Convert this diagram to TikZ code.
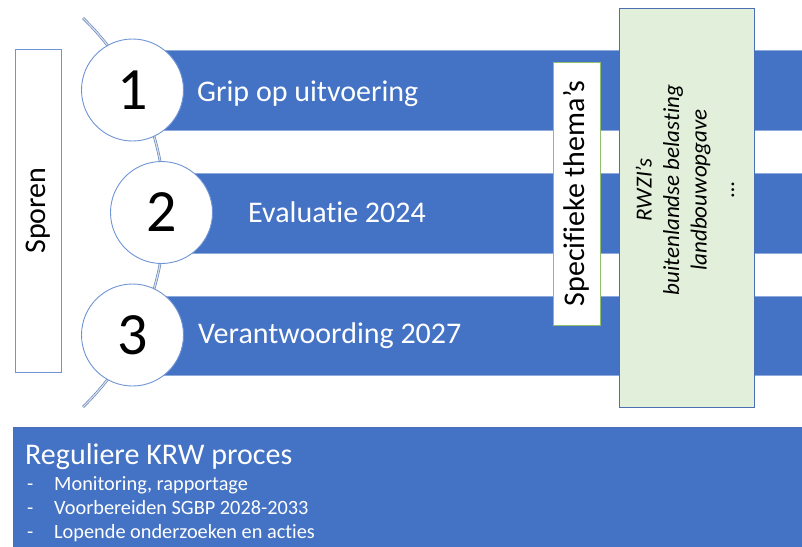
\documentclass[tikz,border=0pt]{standalone}
\usepackage{fontspec}
\setmainfont{Carlito}[Ligatures=NoCommon]
\definecolor{bandblue}{HTML}{4472C4}
\definecolor{bandedge}{HTML}{8EAADB}
\definecolor{circedge}{HTML}{6F94D6}
\definecolor{greenfill}{HTML}{E2EFDA}
\definecolor{greenedge}{HTML}{8FBF6A}
\definecolor{boxedge}{HTML}{4A6FB5}
\definecolor{arcline}{HTML}{5A7BB5}
\begin{document}
\begin{tikzpicture}[x=1pt,y=-1pt,
  band/.style={fill=bandblue, draw=bandedge, line width=0.6pt},
  numcirc/.style={circle, draw=circedge, fill=white, line width=0.9pt, minimum size=102pt, inner sep=0pt, font=\fontsize{60}{62}\selectfont},
  bandtext/.style={text=white, inner sep=0pt, font=\fontsize{30}{36}\selectfont},
  vtext/.style={rotate=90, inner sep=0pt, font=\fontsize{30}{36}\selectfont},
  listtext/.style={text=white, anchor=base west, inner sep=0pt, font=\fontsize{20.3}{24}\selectfont},
]
\useasboundingbox (0,0) rectangle (802,546);

% bands
\path[band] (132,50) rectangle (803,130);
\path[band] (161,173) rectangle (803,253);
\path[band] (132,296) rectangle (803,375);

% arc through the circles
\coordinate (arcc) at (-106.7,212.5);
\draw[draw=arcline, line width=0.6pt, double=white!75!arcline, double distance=1.3pt]
  ([shift={(45.7:271.7pt)}]arcc) arc[start angle=45.7, end angle=-45.7, radius=271.7pt];

% circles
\node[numcirc] (c1) at (132.5,90) {1};
\node[numcirc] (c2) at (161.5,212.5) {2};
\node[numcirc] (c3) at (132.5,335) {3};

% band labels
\node[bandtext, anchor=base west] (t1) at (197,101) {Grip op uitvoering};
\node[bandtext, anchor=base west] (t2) at (248,222) {Evaluatie 2024};
\node[bandtext, anchor=base west] (t3) at (198,343) {Verantwoording 2027};

% Sporen box
\node[draw=circedge, fill=white, line width=0.9pt, minimum width=46pt, minimum height=323pt, inner sep=0pt] (sporen) at (38,210.5) {};
\node[vtext] (sporenlbl) at (sporen.center) {Sporen};

% Specifieke thema's box
\node[draw=greenedge, fill=white, line width=0.9pt, minimum width=47pt, minimum height=263pt, inner sep=0pt] (spec) at (576.5,193.5) {};
\node[vtext] (speclbl) at (spec.center) {Specifieke thema’s};

% big green box
\node[draw=boxedge, fill=greenfill, line width=0.9pt, minimum width=135pt, minimum height=399pt, inner sep=0pt] (green) at (686.5,207.5) {};
\node[rotate=90, inner sep=0pt, align=center, font=\fontsize{23}{27.5}\selectfont\itshape] (greenlbl) at (685,190) {RWZI’s\\buitenlandse belasting\\landbouwopgave\\…};

% bottom box
\node[draw=boxedge, fill=bandblue, line width=0.6pt, minimum width=790pt, minimum height=120pt, inner sep=0pt, anchor=north west] (krw) at (13,427) {};
\node[text=white, anchor=base west, inner sep=0pt, font=\fontsize{30}{34}\selectfont] (krwt) at (25,464) {Reguliere KRW proces};
\node[listtext] (d1) at (27,490) {-};
\node[listtext] (d2) at (27,514) {-};
\node[listtext] (d3) at (27,538) {-};
\node[listtext] (l1) at (54,490) {Monitoring, rapportage};
\node[listtext] (l2) at (54,514) {Voorbereiden SGBP 2028-2033};
\node[listtext] (l3) at (54,538) {Lopende onderzoeken en acties};
\end{tikzpicture}
\end{document}
